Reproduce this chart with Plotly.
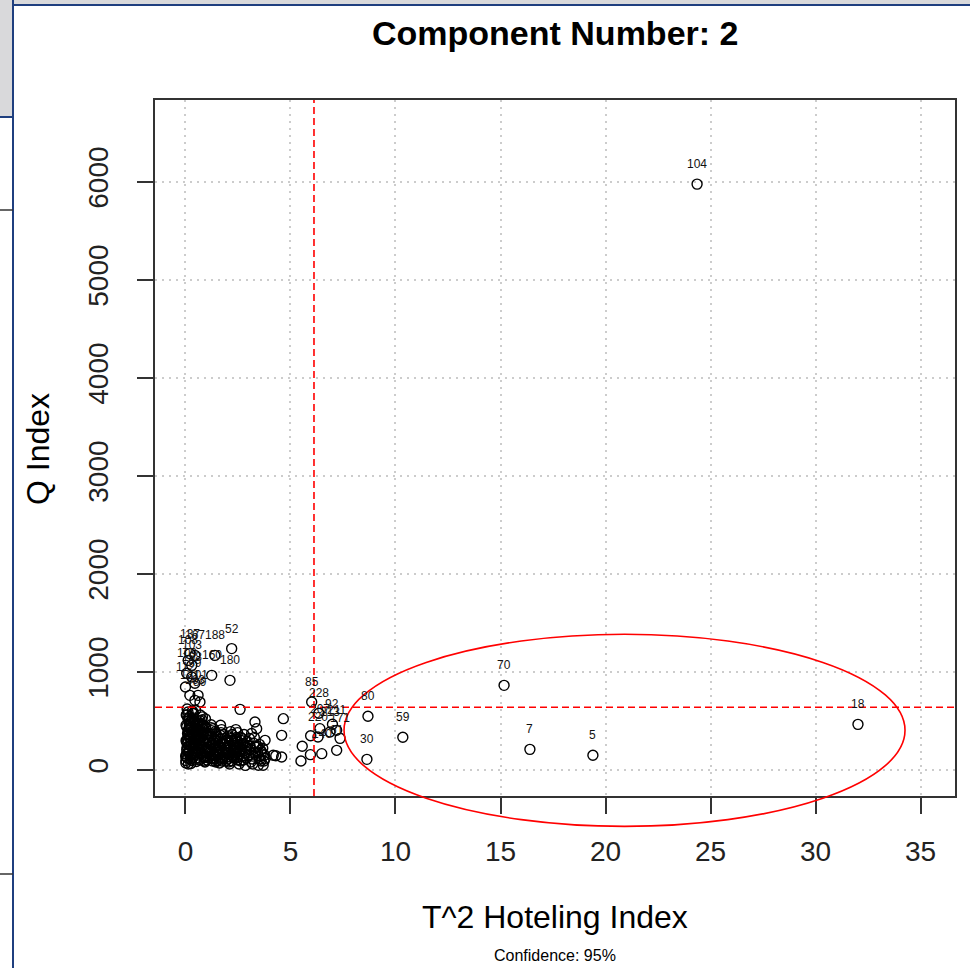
import plotly.graph_objects as go

# ---------------- data ----------------
# unlabeled observations (T^2, Q)
t2_values = [
    0.02, 0.05, 0.08, 0.03, 0.10, 0.06, 0.12, 0.04, 0.15, 0.09, 0.18, 0.13, 0.21, 0.07, 0.24, 0.16,
    0.27, 0.11, 0.30, 0.19, 0.33, 0.23, 0.36, 0.26, 0.40, 0.29, 0.43, 0.34, 0.46, 0.38, 0.49, 0.42,
    0.52, 0.55, 0.58, 0.61, 0.64, 0.67, 0.70, 0.73, 0.76, 0.79, 0.82, 0.85, 0.88, 0.91, 0.94, 0.97,
    0.54, 0.63, 0.72, 0.81, 0.90, 0.99, 0.57, 0.66, 0.75, 0.84,
    1.02, 1.06, 1.10, 1.14, 1.18, 1.22, 1.26, 1.30, 1.34, 1.38, 1.42, 1.46, 1.05, 1.15, 1.25, 1.35,
    1.45, 1.08, 1.20, 1.32, 1.44,
    1.52, 1.56, 1.60, 1.64, 1.68, 1.72, 1.76, 1.80, 1.84, 1.88, 1.92, 1.96, 1.55, 1.67, 1.79, 1.91,
    1.62, 1.86,
    2.02, 2.07, 2.12, 2.17, 2.22, 2.27, 2.32, 2.37, 2.42, 2.47, 2.05, 2.15, 2.25, 2.35, 2.45, 2.10,
    2.30, 2.40,
    2.52, 2.58, 2.64, 2.70, 2.76, 2.82, 2.88, 2.94, 2.55, 2.67, 2.79, 2.91, 2.61, 2.85, 2.60, 2.75,
    3.02, 3.10, 3.18, 3.26, 3.34, 3.42, 3.50, 3.58, 3.66, 3.74, 3.05, 3.20, 3.31, 3.39, 3.47, 3.63,
    3.79, 3.70, 3.55, 3.15,
    0.04, 0.12, 0.20, 0.08, 0.16, 0.35, 0.48, 0.60, 0.26, 0.02, 0.14, 0.38, 0.70, 0.95,
    2.60, 4.18, 4.58, 4.58, 4.66, 4.30, 3.80, 5.50, 5.95, 5.96, 5.56,
    0.01, 0.06, 0.11, 0.17, 0.22, 0.28, 0.33, 0.39, 0.44, 0.48, 0.03, 0.09, 0.14, 0.20, 0.25, 0.31,
    0.37, 0.41, 0.47, 0.05, 0.13, 0.19, 0.27, 0.35, 0.44,
    0.51, 0.56, 0.62, 0.68, 0.74, 0.80, 0.86, 0.92, 0.98, 0.53, 0.59, 0.65, 0.71, 0.77, 0.83, 0.89,
    0.95, 0.60, 0.78, 0.93,
    1.01, 1.07, 1.13, 1.19, 1.24, 1.29, 1.36, 1.41, 1.48, 1.03, 1.11, 1.17, 1.28, 1.39, 1.47, 1.22,
    1.33,
    1.51, 1.58, 1.65, 1.71, 1.78, 1.85, 1.93, 1.99, 1.54, 1.61, 1.74, 1.82, 1.97, 1.69, 1.88,
    2.04, 2.09, 2.14, 2.19, 2.26, 2.33, 2.39, 2.44, 2.49, 2.01, 2.21, 2.36, 2.48,
    2.53, 2.57, 2.63, 2.69, 2.72, 2.78, 2.84, 2.90, 2.97, 2.66,
    3.08, 3.22, 3.36, 3.45, 3.52, 3.60, 3.68, 3.76, 3.12, 3.28,
]
q_values = [
    95, 160, 230, 300, 370, 440, 520, 130, 195, 265, 335, 405, 480, 560, 110, 175,
    245, 315, 385, 455, 600, 145, 210, 280, 350, 425, 500, 120, 190, 260, 330, 400,
    85, 150, 220, 290, 360, 430, 500, 105, 170, 240, 310, 380, 450, 125, 195, 265,
    335, 405, 470, 540, 90, 140, 210, 275, 345, 415,
    100, 165, 235, 300, 370, 430, 120, 185, 255, 320, 390, 140, 205, 275, 345,
    110, 80, 215, 160, 285, 365,
    95, 160, 225, 290, 350, 410, 130, 195, 260, 320, 90, 170, 240, 455, 115, 300,
    70, 230,
    110, 175, 240, 300, 360, 140, 205, 270, 330, 100, 80, 390, 150, 225, 290, 60,
    120, 410,
    130, 190, 250, 320, 100, 170, 230, 290, 60, 140, 360, 120, 335, 45, 210, 270,
    150, 210, 110, 270, 180, 240, 130, 200, 160, 90, 320, 60, 488, 420, 46, 182,
    301, 46, 110, 370,
    560, 590, 540, 620, 505, 575, 610, 470, 65, 70, 60, 580, 560, 520,
    617, 148, 131, 352, 522, 143, 117, 90, 155, 348, 240,
    140, 205, 285, 355, 425, 95, 170, 240, 310, 380, 455, 120, 185, 250, 320, 390,
    470, 150, 220, 290, 360, 430, 500, 530, 480,
    120, 185, 255, 325, 395, 460, 135, 200, 280, 350, 420, 100, 165, 230, 300, 370,
    440, 490, 510, 80,
    130, 200, 270, 340, 400, 90, 150, 225, 295, 360, 120, 180, 250, 310, 200, 460,
    420,
    180, 250, 120, 200, 280, 150, 220, 300, 340, 110, 90, 360, 130, 380, 260,
    200, 270, 130, 320, 190, 250, 170, 120, 220, 340, 90, 300, 380,
    160, 230, 90, 200, 260, 140, 200, 180, 250, 300,
    240, 140, 230, 170, 260, 90, 220, 150, 80, 330,
]

# flagged observations (beyond a control limit) with their ids
t2_flag = [24.36, 15.17, 32.02, 16.40, 19.40, 10.35, 8.69, 8.64,
           6.01, 6.35, 7.00, 6.40, 7.20, 7.36, 6.31, 6.88, 7.20, 6.49,
           0.21, 0.45, 0.13, 0.30, 2.20, 1.40, 1.25, 2.12, 0.06, 0.30, 0.00, 0.45,
           0.21, 0.60, 0.45, 0.69]
q_flag = [5976, 862, 464, 209, 148, 332, 546, 107,
          692, 577, 465, 420, 403, 321, 335, 386, 199, 165,
          1186, 1168, 1117, 1066, 1237, 1168, 964, 913, 985, 947, 845, 883,
          760, 760, 709, 692]
flag_ids = ["104", "70", "18", "7", "5", "59", "80", "30",
            "85", "228", "92", "207", "211", "171", "220", "213", "61", "140",
            "137", "167", "108", "103", "52", "188", "160", "180", "109", "198", "112", "99",
            "131", "101", "163", "89"]

# control limits (95% confidence)
t2_limit = 6.12
q_limit = 638

x_ticks = [0, 5, 10, 15, 20, 25, 30, 35]
y_ticks = [0, 1000, 2000, 3000, 4000, 5000, 6000]
x_range = [-1.45, 36.64]
y_range = [-267, 6834]

# hand-drawn highlight ellipse (data units)
ellipse_t2 = [7.55, 34.26]
ellipse_q = [-577, 1383]

# ---------------- figure ----------------
FONT = "Liberation Sans, Arial, sans-serif"
W, H = 970, 968
ML, MR, MT, MB = 155, 15, 100, 172
PW, PH = W - ML - MR, H - MT - MB


def px_x(px):
    return (px - ML) / PW


def px_y(py):
    return (H - MB - py) / PH


def to_paper_x(v):
    return (v - x_range[0]) / (x_range[1] - x_range[0])


def to_paper_y(v):
    return (v - y_range[0]) / (y_range[1] - y_range[0])


fig = go.Figure()
fig.add_trace(go.Scatter(
    x=t2_values + t2_flag, y=q_values + q_flag, mode="markers",
    marker=dict(symbol="circle-open", size=10, color="black", line=dict(width=1.4, color="black")),
    hoverinfo="skip", showlegend=False, cliponaxis=False,
))

annotations = []
for xv, yv, lab in zip(t2_flag, q_flag, flag_ids):
    annotations.append(dict(x=xv, y=yv, xref="x", yref="y", text=lab, showarrow=False,
                            yshift=20, font=dict(family=FONT, size=12, color="#111")))

annotations += [
    dict(text="<b>Component Number: 2</b>", x=0.5, y=px_y(33), xref="paper", yref="paper",
         showarrow=False, xanchor="center", yanchor="middle",
         font=dict(family=FONT, size=34, color="black")),
    dict(text="T^2 Hoteling Index", x=0.5, y=px_y(917), xref="paper", yref="paper",
         showarrow=False, xanchor="center", yanchor="middle",
         font=dict(family=FONT, size=32, color="black")),
    dict(text="Confidence: 95%", x=0.5, y=px_y(955), xref="paper", yref="paper",
         showarrow=False, xanchor="center", yanchor="middle",
         font=dict(family=FONT, size=16, color="black")),
    dict(text="Q Index", x=px_x(38), y=px_y(449), xref="paper", yref="paper",
         showarrow=False, xanchor="center", yanchor="middle", textangle=-90,
         font=dict(family=FONT, size=32, color="black")),
]

shapes = [
    # control limits
    dict(type="line", xref="x", yref="paper", x0=t2_limit, x1=t2_limit, y0=0, y1=1,
         line=dict(color="red", width=1.6, dash="7px,4px")),
    dict(type="line", xref="paper", yref="y", x0=0, x1=1, y0=q_limit, y1=q_limit,
         line=dict(color="red", width=1.6, dash="7px,4px")),
    # highlight ellipse
    dict(type="circle", xref="paper", yref="paper",
         x0=to_paper_x(ellipse_t2[0]), x1=to_paper_x(ellipse_t2[1]),
         y0=to_paper_y(ellipse_q[0]), y1=to_paper_y(ellipse_q[1]),
         line=dict(color="red", width=1.6)),
    # window frame decoration
    dict(type="rect", xref="paper", yref="paper", x0=px_x(0), x1=px_x(W), y0=px_y(0), y1=px_y(5),
         fillcolor="#d9d9db", line=dict(width=0)),
    dict(type="rect", xref="paper", yref="paper", x0=px_x(0), x1=px_x(13), y0=px_y(0), y1=px_y(117),
         fillcolor="#d9d9db", line=dict(width=0)),
    dict(type="line", xref="paper", yref="paper", x0=px_x(13), x1=px_x(W), y0=px_y(5), y1=px_y(5),
         line=dict(color="#1f3f7f", width=2)),
    dict(type="line", xref="paper", yref="paper", x0=px_x(13), x1=px_x(13), y0=px_y(0), y1=px_y(H),
         line=dict(color="#1f3f7f", width=2)),
    dict(type="line", xref="paper", yref="paper", x0=px_x(0), x1=px_x(13), y0=px_y(117), y1=px_y(117),
         line=dict(color="#1f3f7f", width=2)),
    dict(type="line", xref="paper", yref="paper", x0=px_x(0), x1=px_x(13), y0=px_y(210), y1=px_y(210),
         line=dict(color="#333333", width=1.5)),
    dict(type="line", xref="paper", yref="paper", x0=px_x(0), x1=px_x(13), y0=px_y(874), y1=px_y(874),
         line=dict(color="#333333", width=1.5)),
]

axis_common = dict(
    showline=True, linecolor="#333333", linewidth=1.5, mirror=True,
    ticks="outside", ticklen=16, tickwidth=1.5, tickcolor="#333333",
    showgrid=True, gridcolor="#cccccc", gridwidth=1.5, griddash="2px,5px",
    zeroline=False, tickfont=dict(family=FONT, size=28, color="#222222"),
)

fig.update_layout(
    width=W, height=H,
    margin=dict(l=ML, r=MR, t=MT, b=MB, autoexpand=False),
    paper_bgcolor="white", plot_bgcolor="white",
    xaxis=dict(range=x_range, tickvals=x_ticks, ticktext=[str(v) for v in x_ticks],
               ticklabelstandoff=14, **axis_common),
    yaxis=dict(range=y_range, tickvals=y_ticks, ticktext=[str(v) for v in y_ticks],
               tickangle=-90, ticklabelstandoff=18, **axis_common),
    annotations=annotations, shapes=shapes,
    showlegend=False,
)

fig.write_html("out.html")
